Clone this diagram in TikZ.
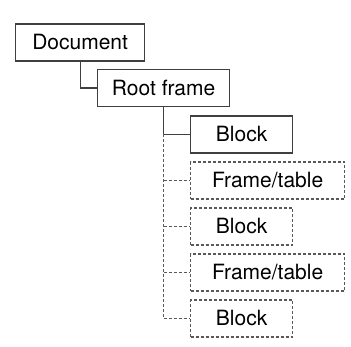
\documentclass[tikz,border=0pt]{standalone}
\usepackage{fontspec}
\setmainfont{TeX Gyre Heros}
\usetikzlibrary{positioning}

\begin{document}
\begin{tikzpicture}[x=1pt, y=-1pt,
	box/.style={draw=black!75, line width=1.3pt, minimum height=37pt, inner sep=0pt, anchor=west, font=\fontsize{21}{25}\selectfont},
	dbox/.style={box, draw=black!65, dash pattern=on 3pt off 2pt},
	link/.style={draw=black!75, line width=1.3pt},
	dlink/.style={draw=black!65, line width=1.3pt, dash pattern=on 3pt off 2pt}]
	\useasboundingbox (0,0) rectangle (351,347);

	% Nodes
	\node[box, minimum width=129pt] (doc) at (15,42.5) {Document};
	\node[box, minimum width=132pt] (root) at (97,88) {Root frame};
	\node[box, minimum width=102pt] (blockA) at (190,134.5) {Block};
	\node[dbox, minimum width=154pt] (frameA) at (190,180.5) {Frame/table};
	\node[dbox, minimum width=102pt] (blockB) at (190,226.5) {Block};
	\node[dbox, minimum width=154pt] (frameB) at (190,272.5) {Frame/table};
	\node[dbox, minimum width=102pt] (blockC) at (190,318.5) {Block};

	% Tree lines
	\draw[link] (doc.south) |- (root.west);
	\draw[link] (root.south) |- (blockA.west);
	\draw[dlink] (root.south |- blockA.west) -- (root.south |- blockC.west);
	\foreach \n in {frameA, blockB, frameB, blockC}
		\draw[dlink] (root.south |- \n.west) -- (\n.west);
\end{tikzpicture}
\end{document}
